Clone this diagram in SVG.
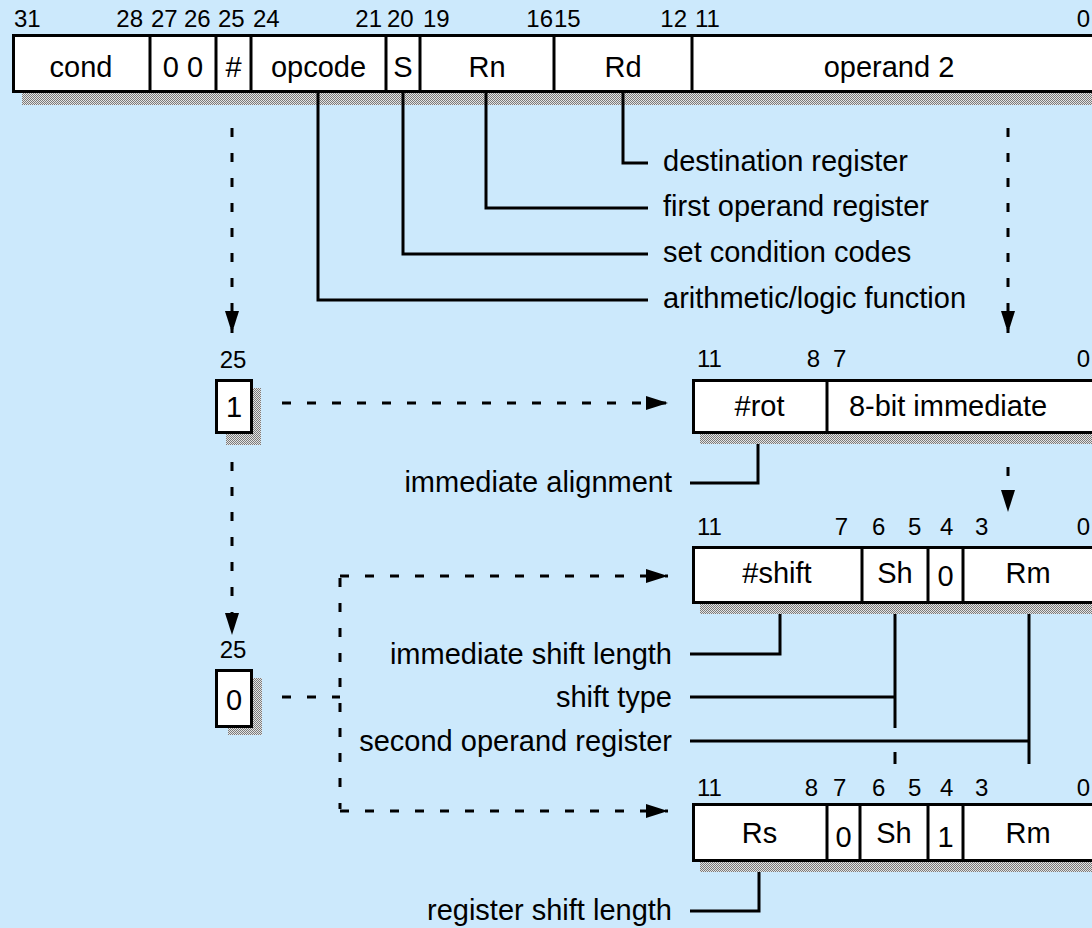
<svg xmlns="http://www.w3.org/2000/svg" width="1092" height="928" viewBox="0 0 1092 928">
<style>
.box{fill:#fff;stroke:#000;stroke-width:3}
.div{stroke:#000;stroke-width:3}
.shadow{fill:url(#dots)}
.t{font-family:"Liberation Sans",Arial,sans-serif;font-size:29px;fill:#000}
.b{font-family:"Liberation Sans",Arial,sans-serif;font-size:24px;fill:#000}
.m{text-anchor:middle}
.e{text-anchor:end}
.lead{fill:none;stroke:#000;stroke-width:3}
.dash{fill:none;stroke:#000;stroke-width:3;stroke-dasharray:9 16}
</style>
<defs>
<pattern id="dots" width="2" height="2" patternUnits="userSpaceOnUse">
<rect width="2" height="2" fill="#e4e4e4"/>
<rect width="1" height="1" fill="#7a7a7a"/>
<rect x="1" y="1" width="1" height="1" fill="#7a7a7a"/>
</pattern>
<marker id="arr" markerUnits="userSpaceOnUse" markerWidth="24" markerHeight="14" refX="22" refY="7" orient="auto">
<path d="M0,0 L22,7 L0,14 z" fill="#000"/>
</marker>
</defs>
<rect width="1092" height="928" fill="#cce9fc"/>

<g id="instruction">
<rect class="shadow" x="22" y="45" width="1080" height="60"/>
<rect class="box" x="13.5" y="35.5" width="1100" height="56"/>
<line class="div" x1="150" y1="34" x2="150" y2="93"/>
<line class="div" x1="216" y1="34" x2="216" y2="93"/>
<line class="div" x1="251" y1="34" x2="251" y2="93"/>
<line class="div" x1="386" y1="34" x2="386" y2="93"/>
<line class="div" x1="420" y1="34" x2="420" y2="93"/>
<line class="div" x1="554" y1="34" x2="554" y2="93"/>
<line class="div" x1="692" y1="34" x2="692" y2="93"/>
<text class="t m" x="81" y="77">cond</text>
<text class="t m" x="183" y="77">0 0</text>
<text class="t m" x="233.5" y="77">#</text>
<text class="t m" x="318.5" y="77">opcode</text>
<text class="t m" x="403" y="77">S</text>
<text class="t m" x="487" y="77">Rn</text>
<text class="t m" x="623" y="77">Rd</text>
<text class="t m" x="889" y="77">operand 2</text>
<text class="b" x="14" y="27">31</text>
<text class="b e" x="143" y="27">28</text>
<text class="b" x="151" y="27">27</text>
<text class="b" x="184" y="27">26</text>
<text class="b" x="218" y="27">25</text>
<text class="b" x="253" y="27">24</text>
<text class="b e" x="382" y="27">21</text>
<text class="b" x="387" y="27">20</text>
<text class="b" x="423" y="27">19</text>
<text class="b e" x="553" y="27">16</text>
<text class="b" x="554" y="27">15</text>
<text class="b e" x="687" y="27">12</text>
<text class="b" x="695" y="27">11</text>
<text class="b e" x="1090" y="27">0</text>
</g>

<g id="labels-top">
<text class="t" x="663" y="171">destination register</text>
<text class="t" x="663" y="216">first operand register</text>
<text class="t" x="663" y="262">set condition codes</text>
<text class="t" x="663" y="308">arithmetic/logic function</text>
</g>

<g id="bit25-1">
<text class="b m" x="233" y="368">25</text>
<rect class="shadow" x="226" y="388" width="35" height="57"/>
<rect class="box" x="216.5" y="380.5" width="35" height="52"/>
<text class="t m" x="234" y="417">1</text>
</g>

<g id="bit25-0">
<text class="b m" x="233" y="658">25</text>
<rect class="shadow" x="228" y="678" width="34" height="57"/>
<rect class="box" x="216.5" y="670.5" width="35" height="56"/>
<text class="t m" x="234" y="710">0</text>
</g>

<g id="immediate">
<rect class="shadow" x="700" y="390" width="400" height="54"/>
<rect class="box" x="693.5" y="380.5" width="420" height="52"/>
<line class="div" x1="827" y1="379" x2="827" y2="434"/>
<text class="t m" x="759.5" y="416">#rot</text>
<text class="t m" x="948" y="416">8-bit immediate</text>
<text class="b" x="697" y="367">11</text>
<text class="b e" x="820" y="367">8</text>
<text class="b" x="833" y="367">7</text>
<text class="b e" x="1090" y="367">0</text>
<text class="t e" x="672" y="492">immediate alignment</text>
</g>

<g id="shift-imm">
<rect class="shadow" x="700" y="556" width="400" height="58"/>
<rect class="box" x="693.5" y="547.5" width="420" height="55"/>
<line class="div" x1="862" y1="546" x2="862" y2="604"/>
<line class="div" x1="928" y1="546" x2="928" y2="604"/>
<line class="div" x1="963" y1="546" x2="963" y2="604"/>
<text class="t m" x="777" y="583">#shift</text>
<text class="t m" x="895" y="583">Sh</text>
<text class="t m" x="945.5" y="586">0</text>
<text class="t m" x="1028" y="583">Rm</text>
<text class="b" x="697" y="535">11</text>
<text class="b e" x="848" y="535">7</text>
<text class="b" x="872" y="535">6</text>
<text class="b" x="908" y="535">5</text>
<text class="b" x="940" y="535">4</text>
<text class="b" x="975" y="535">3</text>
<text class="b e" x="1090" y="535">0</text>
<text class="t e" x="672" y="664">immediate shift length</text>
<text class="t e" x="672" y="707">shift type</text>
<text class="t e" x="672" y="751">second operand register</text>
</g>

<g id="shift-reg">
<rect class="shadow" x="700" y="813" width="400" height="59"/>
<rect class="box" x="693.5" y="804.5" width="420" height="56"/>
<line class="div" x1="827" y1="803" x2="827" y2="862"/>
<line class="div" x1="860" y1="803" x2="860" y2="862"/>
<line class="div" x1="928" y1="803" x2="928" y2="862"/>
<line class="div" x1="963" y1="803" x2="963" y2="862"/>
<text class="t m" x="759.5" y="843">Rs</text>
<text class="t m" x="843.5" y="847">0</text>
<text class="t m" x="894" y="843">Sh</text>
<text class="t m" x="945.5" y="847">1</text>
<text class="t m" x="1028" y="843">Rm</text>
<text class="b" x="697" y="796">11</text>
<text class="b e" x="818" y="796">8</text>
<text class="b" x="833" y="796">7</text>
<text class="b" x="872" y="796">6</text>
<text class="b" x="908" y="796">5</text>
<text class="b" x="940" y="796">4</text>
<text class="b" x="975" y="796">3</text>
<text class="b e" x="1090" y="796">0</text>
<text class="t e" x="672" y="920">register shift length</text>
</g>

<g id="connectors">
<path class="lead" d="M623,93 V163 H648"/>
<path class="lead" d="M486,93 V208 H648"/>
<path class="lead" d="M403,93 V254 H648"/>
<path class="lead" d="M318,93 V300 H648"/>
<path class="lead" d="M758,444 V483 H690"/>
<path class="lead" d="M780,614 V654 H690"/>
<path class="lead" d="M895,614 V728"/>
<path class="lead" d="M690,697 H895"/>
<path class="lead" d="M1029,614 V764"/>
<path class="lead" d="M690,741 H1029"/>
<path class="lead" d="M895,752 V764"/>
<path class="lead" d="M759,872 V911 H690"/>
<path class="dash" d="M232,128 V333" marker-end="url(#arr)"/>
<path class="dash" d="M1008,128 V333" marker-end="url(#arr)"/>
<path class="dash" d="M282,403 H668" marker-end="url(#arr)"/>
<path class="dash" d="M1008,467 V512" marker-end="url(#arr)"/>
<path class="dash" d="M232,462 V635" marker-end="url(#arr)"/>
<path class="dash" d="M282,697 H340"/>
<path class="dash" d="M340,578 V809"/>
<path class="dash" d="M340,576 H668" marker-end="url(#arr)"/>
<path class="dash" d="M340,811 H668" marker-end="url(#arr)"/>
</g>
</svg>
